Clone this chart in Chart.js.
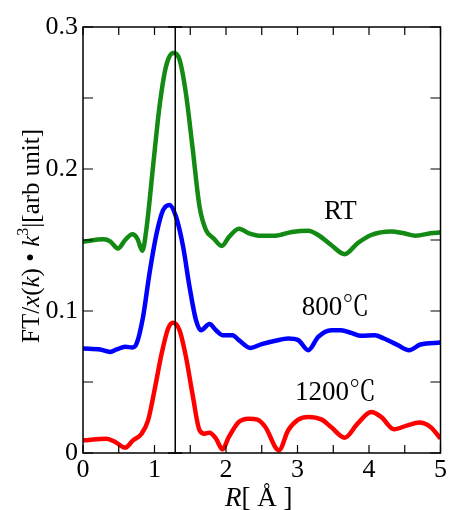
<!DOCTYPE html>
<html>
<head>
<meta charset="utf-8">
<script src="https://cdn.jsdelivr.net/npm/chart.js@4.4.1/dist/chart.umd.min.js"></script>
<style>
html,body{margin:0;padding:0;background:#fff;}
#wrap{width:449px;height:510px;position:relative;}
</style>
</head>
<body>
<div id="wrap"><canvas id="c" width="449" height="510"></canvas></div>
<script>
const seriesNames = ['RT', '800℃', '1200℃'];
const seriesColors = ['#138a13', '#0000ff', '#ff0000'];

const rRT  = [0,0.29,0.38,0.49,0.59,0.69,0.76,0.83,0.89,0.98,1.07,1.16,1.26,1.35,1.44,1.53,1.63,1.72,1.83,1.94,2.04,2.18,2.32,2.46,2.69,2.92,3.15,3.29,3.47,3.66,3.84,4.03,4.31,4.49,4.65,4.86,5.0];
const ftRT = [0.1488,0.1505,0.149,0.144,0.150,0.154,0.151,0.1425,0.159,0.202,0.244,0.272,0.2817,0.277,0.253,0.216,0.1735,0.157,0.151,0.1458,0.152,0.158,0.1547,0.153,0.153,0.1557,0.1566,0.1535,0.1465,0.140,0.1477,0.1535,0.156,0.1547,0.153,0.1547,0.1554];

const r800  = [0,0.24,0.38,0.47,0.59,0.69,0.75,0.84,0.93,1.03,1.12,1.21,1.30,1.40,1.49,1.58,1.65,1.77,1.86,1.95,2.09,2.18,2.34,2.50,2.69,2.87,3.01,3.15,3.29,3.47,3.61,3.75,3.89,4.08,4.21,4.40,4.56,4.72,5.0];
const ft800 = [0.0736,0.0729,0.0712,0.0729,0.0748,0.0743,0.0771,0.0959,0.1265,0.1547,0.171,0.1747,0.1665,0.1453,0.117,0.0936,0.0865,0.0908,0.0865,0.083,0.083,0.0795,0.074,0.0767,0.079,0.0806,0.0795,0.0724,0.0818,0.0865,0.0865,0.0846,0.0825,0.083,0.0806,0.076,0.0724,0.0764,0.0778];

const r1200  = [0,0.33,0.45,0.59,0.70,0.82,0.91,1.00,1.10,1.19,1.26,1.35,1.44,1.53,1.63,1.70,1.77,1.86,1.95,2.04,2.18,2.32,2.44,2.55,2.74,2.87,3.01,3.15,3.34,3.47,3.66,3.84,4.03,4.17,4.35,4.54,4.70,4.86,5.0];
const ft1200 = [0.0089,0.0101,0.0078,0.0038,0.0089,0.0136,0.023,0.0442,0.070,0.0877,0.0917,0.0865,0.0677,0.0419,0.016,0.0136,0.0143,0.0101,0.0026,0.0113,0.0219,0.0242,0.0235,0.0183,0.0019,0.016,0.0235,0.0254,0.0235,0.0183,0.0108,0.0207,0.0289,0.0254,0.0167,0.0195,0.0214,0.0183,0.0101];

const xTicks = [0,1,2,3,4,5];
const yTicks = [0,0.1,0.2,0.3];
const markerR = 1.29;
const labelAnchors = [[3.6,0.170],[3.53,0.102],[3.53,0.042]];

const zip = (xs, ys) => xs.map((x,i)=>({x:x, y:ys[i]}));
const seriesData = [zip(rRT,ftRT), zip(r800,ft800), zip(r1200,ft1200)];

const SERIF = "'Liberation Serif','Noto Serif CJK JP','Noto Sans CJK JP','DejaVu Serif',serif";

const framePlugin = {
  id: 'frame',
  afterDatasetsDraw(chart) {
    const ctx = chart.ctx, a = chart.chartArea;
    const xs = chart.scales.x, ys = chart.scales.y;
    ctx.save();
    ctx.strokeStyle = '#000';
    ctx.lineWidth = 1.5;
    ctx.strokeRect(a.left, a.top, a.right - a.left, a.bottom - a.top);
    ctx.lineWidth = 1.2;
    const tl = 8;
    for (let v = 0; v <= 5.0001; v += 0.5) {
      const px = xs.getPixelForValue(v);
      ctx.beginPath();
      ctx.moveTo(px, a.bottom); ctx.lineTo(px, a.bottom - tl);
      ctx.moveTo(px, a.top); ctx.lineTo(px, a.top + tl);
      ctx.stroke();
    }
    for (let v = 0; v <= 0.30001; v += 0.05) {
      const py = ys.getPixelForValue(v);
      ctx.beginPath();
      ctx.moveTo(a.left, py); ctx.lineTo(a.left + 10, py);
      ctx.moveTo(a.right, py); ctx.lineTo(a.right - 10, py);
      ctx.stroke();
    }
    const mx = xs.getPixelForValue(markerR);
    const y0 = ys.getPixelForValue(0), y1 = ys.getPixelForValue(0.3);
    ctx.lineWidth = 1.5;
    ctx.beginPath();
    ctx.moveTo(mx, y0); ctx.lineTo(mx, y1);
    ctx.moveTo(mx - 7, y0); ctx.lineTo(mx + 7, y0);
    ctx.moveTo(mx - 7, y1); ctx.lineTo(mx + 7, y1);
    ctx.stroke();
    ctx.fillStyle = '#000';
    ctx.font = '27px ' + SERIF;
    ctx.textAlign = 'center';
    ctx.textBaseline = 'middle';
    seriesNames.forEach((n, i) => {
      ctx.fillText(n, xs.getPixelForValue(labelAnchors[i][0]), ys.getPixelForValue(labelAnchors[i][1]));
    });
    ctx.textBaseline = 'alphabetic';
    ctx.textAlign = 'left';
    const cx = (a.left + a.right) / 2 - 3;
    const ty = 506;
    ctx.font = 'italic 27px ' + SERIF;
    const wR = ctx.measureText('R').width;
    ctx.font = '27px ' + SERIF;
    const wRest = ctx.measureText('[ Å ]').width;
    let sx = cx - (wR + wRest) / 2;
    ctx.font = 'italic 27px ' + SERIF;
    ctx.fillText('R', sx, ty);
    ctx.font = '27px ' + SERIF;
    ctx.fillText('[ Å ]', sx + wR, ty);
    ctx.save();
    ctx.translate(39, 236);
    ctx.rotate(-Math.PI / 2);
    const parts = [
      ['FT', false, 25, 0], ['/', false, 25, 0], ['x', true, 25, 0], ['(', false, 25, 0], ['k', true, 25, 0], [')', false, 25, 0],
      [' • ', false, 25, 0], ['k', true, 25, 0], ['3', false, 16, -11], ['|[arb unit]', false, 25, 0]
    ];
    let total = 0;
    parts.forEach(p => { ctx.font = (p[1] ? 'italic ' : '') + p[2] + 'px ' + SERIF; total += ctx.measureText(p[0]).width; });
    let px = -total / 2;
    parts.forEach(p => {
      ctx.font = (p[1] ? 'italic ' : '') + p[2] + 'px ' + SERIF;
      ctx.fillText(p[0], px, p[3]);
      px += ctx.measureText(p[0]).width;
    });
    ctx.restore();
    ctx.restore();
  }
};

new Chart(document.getElementById('c'), {
  type: 'line',
  data: {
    datasets: seriesData.map((d, i) => ({
      label: seriesNames[i],
      data: d,
      borderColor: seriesColors[i],
      borderWidth: 4.5,
      pointRadius: 0,
      tension: 0,
      cubicInterpolationMode: 'monotone',
      fill: false
    }))
  },
  options: {
    responsive: false,
    animation: false,
    devicePixelRatio: 1,
    layout: { padding: { left: 0, right: 6, top: 27, bottom: 0 } },
    plugins: { legend: { display: false }, tooltip: { enabled: false } },
    scales: {
      x: {
        type: 'linear', min: 0, max: 5,
        afterFit(s) { s.height = 57; },
        afterBuildTicks(s) { s.ticks = xTicks.map(v => ({ value: v })); },
        grid: { display: false, drawTicks: false },
        border: { display: false },
        ticks: { color: '#000', padding: 2, maxRotation: 0, font: { family: SERIF, size: 26 } }
      },
      y: {
        type: 'linear', min: 0, max: 0.3,
        afterFit(s) { s.width = 83; },
        afterBuildTicks(s) { s.ticks = yTicks.map(v => ({ value: v })); },
        grid: { display: false, drawTicks: false },
        border: { display: false },
        ticks: { color: '#000', padding: 5, font: { family: SERIF, size: 26 },
          callback: v => (Math.round(v * 10) / 10).toString() }
      }
    }
  },
  plugins: [framePlugin]
});
</script>
</body>
</html>
